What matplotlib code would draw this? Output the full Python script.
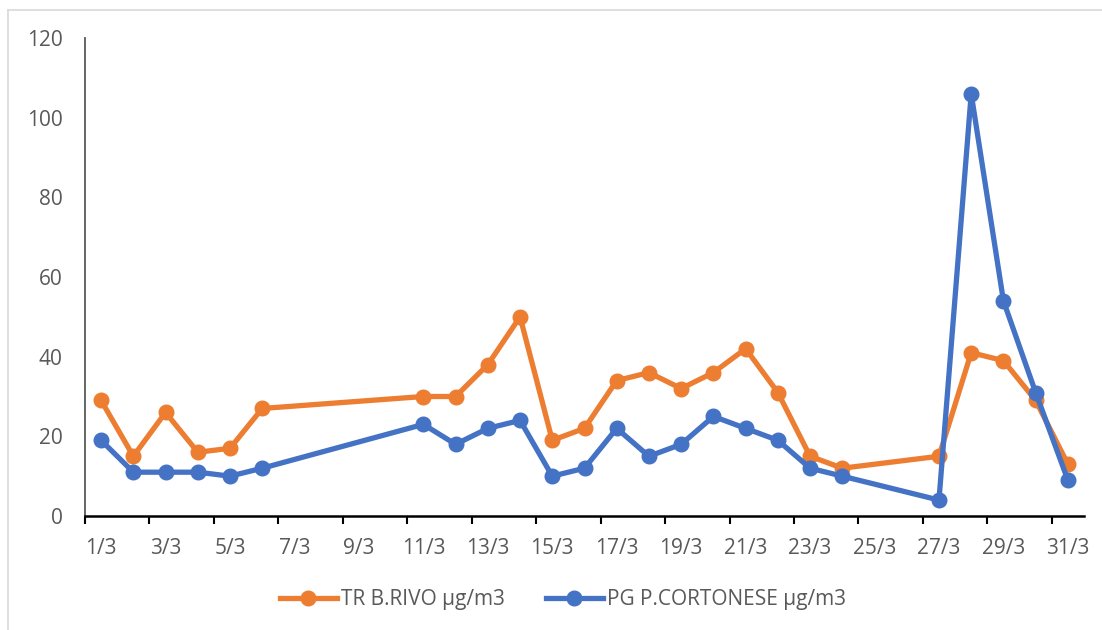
import matplotlib
matplotlib.use("Agg")
import matplotlib.pyplot as plt
from matplotlib.lines import Line2D
import numpy as np

# Data
days = [1, 2, 3, 4, 5, 6, 11, 12, 13, 14, 15, 16, 17, 18, 19, 20, 21, 22, 23, 24, 27, 28, 29, 30, 31]
tr_rivo = [29, 15, 26, 16, 17, 27, 30, 30, 38, 50, 19, 22, 34, 36, 32, 36, 42, 31, 15, 12, 15, 41, 39, 29, 13]
pg_cortonese = [19, 11, 11, 11, 10, 12, 23, 18, 22, 24, 10, 12, 22, 15, 18, 25, 22, 19, 12, 10, 4, 106, 54, 31, 9]
label_days = list(range(1, 32, 2))
tick_labels = [f"{d}/3" for d in label_days]
series_names = ["TR B.RIVO µg/m3", "PG P.CORTONESE µg/m3"]

ORANGE = "#ED7D31"
BLUE = "#4472C4"
TXT = "#595959"

plt.rcParams['font.family'] = ['Open Sans', 'DejaVu Sans']

W, H = 1102, 630
fig = plt.figure(figsize=(W / 100, H / 100), dpi=100)
ax = fig.add_axes([85 / W, (H - 516) / H, (1084 - 85) / W, (516 - 38) / H])

ax.plot(days, tr_rivo, color=ORANGE, lw=3.8, marker='o', ms=10.5, solid_joinstyle='round',
        label=series_names[0], zorder=3)
ax.plot(days, pg_cortonese, color=BLUE, lw=3.8, marker='o', ms=10.5, solid_joinstyle='round',
        label=series_names[1], zorder=4)

ax.set_xlim(0.5, 31.5)
ax.set_ylim(0, 120)
ax.set_yticks(np.arange(0, 121, 20))
ax.tick_params(axis='y', length=0, pad=16, labelsize=15, labelcolor=TXT)

# tick marks at day boundaries, labels at day centres
ax.set_xticks([d - 0.5 for d in label_days])
ax.set_xticklabels([])
ax.tick_params(axis='x', which='major', length=6, width=1.5, color='black', direction='out')
ax.set_xticks(label_days, minor=True)
ax.set_xticklabels(tick_labels, minor=True)
ax.tick_params(axis='x', which='minor', length=0, pad=16, labelsize=15, labelcolor=TXT)

for s in ['top', 'right']:
    ax.spines[s].set_visible(False)
ax.spines['left'].set_color('#595959')
ax.spines['left'].set_linewidth(1.3)
ax.spines['bottom'].set_color('black')
ax.spines['bottom'].set_linewidth(1.8)

handles = [Line2D([], [], color=ORANGE, lw=3.8, marker='o', ms=10.5),
           Line2D([], [], color=BLUE, lw=3.8, marker='o', ms=10.5)]
fig.legend(handles, series_names, loc='center', bbox_to_anchor=(563 / W, (H - 600) / H),
           ncol=2, frameon=False, fontsize=15, labelcolor=TXT, handlelength=2.7,
           handletextpad=0.2, columnspacing=2.0)

# chart border (cropped on right and bottom)
fig.add_artist(plt.Line2D([8 / W, 8 / W], [0, (H - 10) / H], color='#D9D9D9', lw=1.2,
                          transform=fig.transFigure))
fig.add_artist(plt.Line2D([8 / W, 1], [(H - 10) / H, (H - 10) / H], color='#D9D9D9', lw=1.2,
                          transform=fig.transFigure))

fig.savefig("out.png", dpi=100)
